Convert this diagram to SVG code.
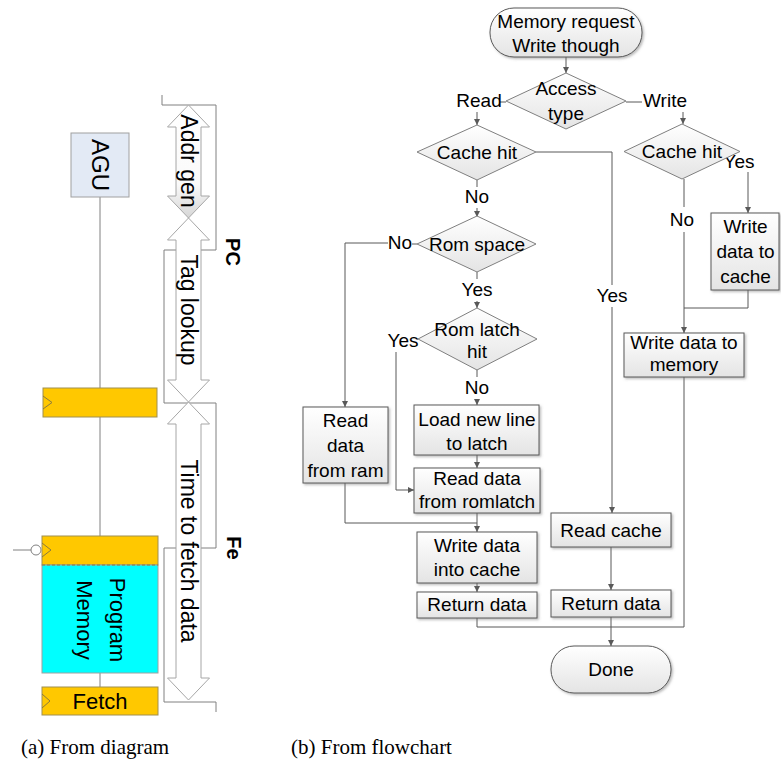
<svg xmlns="http://www.w3.org/2000/svg" width="781" height="763" viewBox="0 0 781 763">
<style>
.t{font-family:"Liberation Sans",Arial,sans-serif;font-size:19px;fill:#000;text-anchor:middle}
.r{font-family:"Liberation Sans",Arial,sans-serif;fill:#000;text-anchor:middle;dominant-baseline:central}
.b{font-weight:bold;font-size:20px}
.cap{font-family:"Liberation Serif","Times New Roman",serif;font-size:21px;fill:#000}
.w{fill:none;stroke:#808080;stroke-width:1}
.c{fill:none;stroke:#595959;stroke-width:1}
.ca{fill:none;stroke:#595959;stroke-width:1;marker-end:url(#ah)}
.box{fill:url(#g);stroke:#595959;stroke-width:1;filter:url(#sh)}
.dia{fill:url(#g);stroke:#7f7f7f;stroke-width:1}
.yel{fill:#ffc800;stroke:#a08f50;stroke-width:1}
.bar{fill:#fff;stroke:#a6a6a6;stroke-width:1}
</style>
<defs>
<linearGradient id="g" x1="0" y1="0" x2="0" y2="1"><stop offset="0" stop-color="#ffffff"/><stop offset="1" stop-color="#e4e4e4"/></linearGradient>
<linearGradient id="ga" x1="0" y1="0" x2="0" y2="1"><stop offset="0" stop-color="#ffffff"/><stop offset="0.7" stop-color="#fafafa"/><stop offset="1" stop-color="#d6d6d6"/></linearGradient>
<filter id="sh" x="-10%" y="-10%" width="130%" height="130%"><feDropShadow dx="1.5" dy="1.5" stdDeviation="0.8" flood-color="#777" flood-opacity="0.5"/></filter>
<marker id="ah" markerUnits="userSpaceOnUse" markerWidth="7" markerHeight="6" refX="6" refY="3" orient="auto"><path d="M0,0 L6,3 L0,6 Z" fill="#595959"/></marker>
</defs>

<!-- (a) From diagram -->
<g id="pipeline-wave">
<polyline class="w" points="162,95 162,105 216,105 216,250 164,250 164,403 216,403 216,548 164,548 164,702 216,702 216,712"/>
</g>
<g id="wires">
<line class="w" x1="100" y1="197" x2="100" y2="388"/>
<line class="w" x1="100" y1="417" x2="100" y2="536"/>
<line class="w" x1="100" y1="673" x2="100" y2="687"/>
<line class="w" x1="13" y1="550" x2="31" y2="550"/>
<circle cx="36" cy="550" r="5" fill="#fff" stroke="#808080"/>
</g>
<g id="agu">
<rect x="71" y="133" width="58" height="64" fill="#e3eaf5" stroke="#a0a0a0"/>
<text class="r" transform="translate(100,165) rotate(90)" font-size="24">AGU</text>
</g>
<g id="reg-pc">
<rect class="yel" x="43" y="388" width="114" height="29"/>
<polyline fill="none" stroke="#8a7a40" points="43,396 52,402.5 43,409"/>
</g>
<g id="program-memory">
<rect class="yel" x="42" y="536" width="116" height="29"/>
<rect x="42" y="565" width="116" height="108" fill="#00ffff" stroke="#a0a0a0"/>
<line x1="42" y1="565" x2="158" y2="565" stroke="#8a7a40" stroke-dasharray="3,2"/>
<polyline fill="none" stroke="#8a7a40" points="42,543 51,550 42,557"/>
<text class="r" transform="translate(117,620) rotate(90)" font-size="22">Program</text>
<text class="r" transform="translate(84,620) rotate(90)" font-size="22">Memory</text>
</g>
<g id="fetch">
<rect class="yel" x="42" y="687" width="116" height="28"/>
<polyline fill="none" stroke="#8a7a40" points="42,694 50,701 42,708"/>
<text class="r" x="100" y="701" font-size="22">Fetch</text>
</g>
<g id="addr-gen">
<path fill="url(#ga)" stroke="#a6a6a6" d="M188.5,105 L209.5,127 L201,127 L201,196 L209.5,196 L188.5,218 L167.5,196 L176,196 L176,127 L167.5,127 Z"/>
<text class="r" transform="translate(188.5,161) rotate(90)" font-size="23">Addr gen</text>
</g>
<g id="tag-lookup">
<path class="bar" d="M188.5,218 L209.5,240 L201,240 L201,380 L209.5,380 L188.5,402 L167.5,380 L176,380 L176,240 L167.5,240 Z"/>
<text class="r" transform="translate(188.5,310) rotate(90)" font-size="23">Tag lookup</text>
</g>
<g id="time-to-fetch">
<path class="bar" d="M188.5,402 L209.5,424 L201,424 L201,678 L209.5,678 L188.5,700 L167.5,678 L176,678 L176,424 L167.5,424 Z"/>
<text class="r" transform="translate(188.5,551) rotate(90)" font-size="23">Time to fetch data</text>
</g>
<g id="stage-labels">
<text class="r b" transform="translate(233,252) rotate(90)">PC</text>
<text class="r b" transform="translate(234,548) rotate(90)">Fe</text>
</g>

<!-- (b) From flowchart -->
<g id="connectors">
<path class="ca" d="M566,57 V73"/>
<path class="c" d="M506,102 H500"/>
<path class="ca" d="M477,112 V125"/>
<path class="c" d="M626,102 H642"/>
<path class="ca" d="M683,112 V124"/>
<path class="c" d="M536,152 H612 V285"/>
<path class="ca" d="M612,307 V513"/>
<path class="c" d="M477,180 V187"/>
<path class="ca" d="M477,208 V217"/>
<path class="c" d="M417,244 H412"/>
<path class="ca" d="M388,243 H345 V407"/>
<path class="c" d="M477,272 V279"/>
<path class="ca" d="M477,301 V308"/>
<path class="c" d="M418,339 H417"/>
<path class="ca" d="M396,352 V490 H414"/>
<path class="c" d="M477,370 V377"/>
<path class="ca" d="M477,399 V405"/>
<path class="ca" d="M477,455 V468"/>
<path class="ca" d="M477,513 V532"/>
<path class="c" d="M345,483 V523 H477"/>
<path class="ca" d="M477,583 V592"/>
<path class="c" d="M477,618 V627 H684"/>
<path class="ca" d="M611,547 V590"/>
<path class="ca" d="M611,617 V646"/>
<path class="ca" d="M748,172 V213"/>
<path class="c" d="M684,179 V207"/>
<path class="ca" d="M684,232 V333"/>
<path class="c" d="M748,290 V308 H684"/>
<path class="c" d="M684,377 V627"/>
</g>
<g id="labels">
<text class="t" x="479" y="107">Read</text>
<text class="t" x="665" y="107">Write</text>
<text class="t" x="477" y="203">No</text>
<text class="t" x="400" y="249">No</text>
<text class="t" x="477" y="296">Yes</text>
<text class="t" x="403" y="347">Yes</text>
<text class="t" x="477" y="394">No</text>
<text class="t" x="612" y="302">Yes</text>
<text class="t" x="682" y="226">No</text>
<text class="t" x="739" y="168">Yes</text>
</g>
<g id="start">
<rect class="box" x="490" y="8" width="152" height="49" rx="24"/>
<text class="t" x="566" y="28">Memory request</text>
<text class="t" x="566" y="52">Write though</text>
</g>
<g id="access-type">
<polygon class="dia" points="566,73 626,101 566,129 506,101"/>
<text class="t" x="566" y="95">Access</text>
<text class="t" x="566" y="120">type</text>
</g>
<g id="cache-hit-read">
<polygon class="dia" points="477,125 536,152 477,180 417,152"/>
<text class="t" x="477" y="159">Cache hit</text>
</g>
<g id="rom-space">
<polygon class="dia" points="477,216 536,244 477,272 417,244"/>
<text class="t" x="477" y="251">Rom space</text>
</g>
<g id="rom-latch-hit">
<polygon class="dia" points="477,308 537,339 477,370 418,339"/>
<text class="t" x="477" y="336">Rom latch</text>
<text class="t" x="477" y="358">hit</text>
</g>
<g id="read-ram">
<rect class="box" x="303" y="407" width="85" height="76"/>
<text class="t" x="345.5" y="427">Read</text>
<text class="t" x="345.5" y="452">data</text>
<text class="t" x="345.5" y="477">from ram</text>
</g>
<g id="load-line">
<rect class="box" x="414" y="405" width="125" height="50"/>
<text class="t" x="477" y="426">Load new line</text>
<text class="t" x="477" y="450">to latch</text>
</g>
<g id="read-romlatch">
<rect class="box" x="414" y="468" width="126" height="45"/>
<text class="t" x="477" y="485">Read data</text>
<text class="t" x="477" y="508">from romlatch</text>
</g>
<g id="write-into-cache">
<rect class="box" x="417" y="532" width="120" height="51"/>
<text class="t" x="477" y="552">Write data</text>
<text class="t" x="477" y="576">into cache</text>
</g>
<g id="return-data-left">
<rect class="box" x="417" y="592" width="120" height="26"/>
<text class="t" x="477" y="611">Return data</text>
</g>
<g id="read-cache">
<rect class="box" x="551" y="513" width="120" height="34"/>
<text class="t" x="611" y="537">Read cache</text>
</g>
<g id="return-data-right">
<rect class="box" x="551" y="590" width="120" height="27"/>
<text class="t" x="611" y="610">Return data</text>
</g>
<g id="done">
<rect class="box" x="551" y="646" width="120" height="47" rx="23"/>
<text class="t" x="611" y="676">Done</text>
</g>
<g id="cache-hit-write">
<polygon class="dia" points="682,124 740,151.5 682,179 624,151.5"/>
<text class="t" x="682" y="158">Cache hit</text>
</g>
<g id="write-to-cache">
<rect class="box" x="711" y="213" width="68" height="77"/>
<text class="t" x="745.5" y="233">Write</text>
<text class="t" x="745.5" y="258">data to</text>
<text class="t" x="745.5" y="283">cache</text>
</g>
<g id="write-to-memory">
<rect class="box" x="624" y="333" width="120" height="44"/>
<text class="t" x="684" y="349">Write data to</text>
<text class="t" x="684" y="371">memory</text>
</g>

<g id="captions">
<text class="cap" x="21" y="754">(a) From diagram</text>
<text class="cap" x="291" y="754">(b) From flowchart</text>
</g>
</svg>
